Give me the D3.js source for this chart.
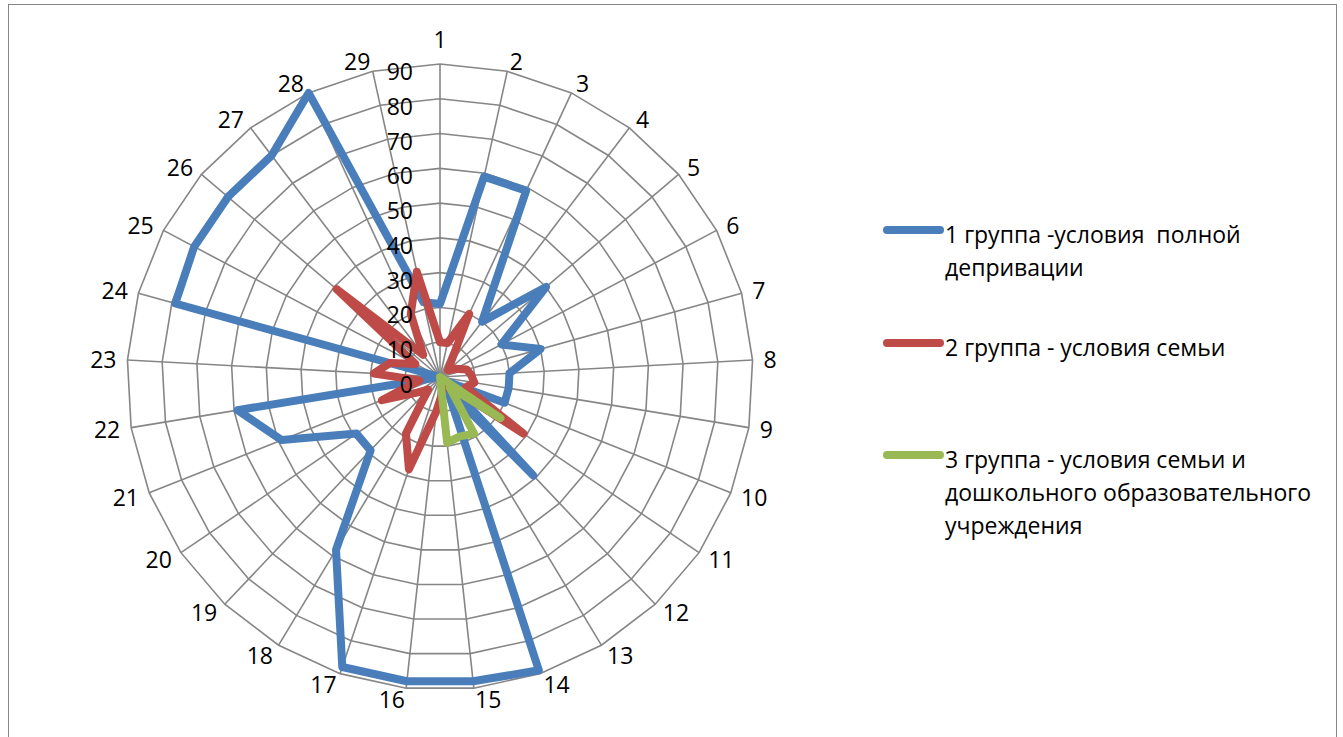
<!DOCTYPE html>
<html>
<head>
<meta charset="utf-8">
<script src="https://cdn.jsdelivr.net/npm/d3@7"></script>
<style>
  body { margin: 0; background: #fff; }
  svg { display: block; }
  text { font-family: "Open Sans", "Noto Sans", sans-serif; fill: #000; }
</style>
</head>
<body>
<svg id="chart" width="1343" height="737"></svg>
<script>
// Categories around the radar (spokes)
const categories = ["1","2","3","4","5","6","7","8","9","10","11","12","13","14","15",
                    "16","17","18","19","20","21","22","23","24","25","26","27","28","29"];

// Series values, one per category
const group1 = [21, 59, 59, 20, 40, 20, 30, 20, 20, 20, 2, 39, 4, 89, 88,
                88, 88, 58, 29, 29, 49, 59, 0, 79, 80, 80, 80, 90, 22];
const group2 = [10, 10, 20, 5, 3, 5, 8, 9, 10, 8, 29, 3, 3, 3, 5,
                10, 28, 19, 5, 8, 18, 6, 19, 15, 8, 39, 8, 20, 31];
const group3 = [0, 0, 0, 0, 0, 0, 0, 0, 0, 0, 21, 4, 19, 18, 19,
                0, 0, 0, 0, 0, 0, 0, 0, 0, 0, 0, 0, 0, 0];

// Radial axis ticks
const radialTicks = [0, 10, 20, 30, 40, 50, 60, 70, 80, 90];

// Legend entries (each entry split into its text lines)
const legendLines = [
  ["1 группа -условия  полной", "депривации"],
  ["2 группа - условия семьи"],
  ["3 группа - условия семьи и", "дошкольного образовательного", "учреждения"]
];
const seriesColors = ["#4A7EBB", "#BE4B48", "#98B954"];

const W = 1343, H = 737;
const cx = 440, cy = 377, R = 313;
const fontSize = 23;

const svg = d3.select("#chart");

// chart frame
svg.append("rect")
  .attr("x", 8.5).attr("y", 4.5)
  .attr("width", 1328).attr("height", 800)
  .attr("fill", "none").attr("stroke", "#868686").attr("stroke-width", 1);

const r = d3.scaleLinear().domain([0, 90]).range([0, R]);
const angle = d3.scaleLinear().domain([0, categories.length]).range([0, 2 * Math.PI]);

const g = svg.append("g").attr("transform", `translate(${cx},${cy})`);

// grid rings
const ringLine = t => d3.lineRadial()
  .angle((d, i) => angle(i))
  .radius(() => r(t))
  .curve(d3.curveLinearClosed);

g.append("g").selectAll("path")
  .data(radialTicks.filter(t => t > 0))
  .join("path")
  .attr("d", t => ringLine(t)(categories))
  .attr("fill", "none")
  .attr("stroke", "#868686")
  .attr("stroke-width", 1.6);

// spokes
g.append("g").selectAll("line")
  .data(categories)
  .join("line")
  .attr("x1", 0).attr("y1", 0)
  .attr("x2", (d, i) => r(90) * Math.sin(angle(i)))
  .attr("y2", (d, i) => -r(90) * Math.cos(angle(i)))
  .attr("stroke", "#868686")
  .attr("stroke-width", 1.6);

// category labels: placed just outside the outer ring, pushed sideways by half their width
const labelGap = 11;
const catLabels = g.append("g").selectAll("text")
  .data(categories)
  .join("text")
  .attr("text-anchor", "middle")
  .attr("dominant-baseline", "central")
  .attr("font-size", fontSize)
  .text(d => d);

catLabels.each(function(d, i) {
  const a = angle(i);
  const s = Math.sin(a), c = Math.cos(a);
  const w = this.getComputedTextLength();
  const side = Math.abs(s) < 1e-6 ? 0 : Math.sign(s);
  const rr = r(90) + labelGap;
  const x = rr * s + side * w / 2;
  const y = -rr * c - (side === 0 ? c * 14 : 0);
  d3.select(this).attr("x", x).attr("y", y);
});

// series polygons
const seriesLine = d3.lineRadial()
  .angle((d, i) => angle(i))
  .radius(d => r(d))
  .curve(d3.curveLinearClosed);

g.append("g").selectAll("path")
  .data([group1, group2, group3])
  .join("path")
  .attr("d", d => seriesLine(d))
  .attr("fill", "none")
  .attr("stroke", (d, i) => seriesColors[i])
  .attr("stroke-width", 8)
  .attr("stroke-linejoin", "round")
  .attr("stroke-linecap", "round");

// radial axis tick labels
g.append("g").selectAll("text")
  .data(radialTicks)
  .join("text")
  .attr("x", -27)
  .attr("y", t => -r(t) + 7)
  .attr("text-anchor", "end")
  .attr("dominant-baseline", "central")
  .attr("font-size", fontSize)
  .text(t => t);

// legend
const legendY = [230, 343, 455];
const legend = svg.append("g");
legendLines.forEach((lines, k) => {
  legend.append("line")
    .attr("x1", 887).attr("x2", 940)
    .attr("y1", legendY[k]).attr("y2", legendY[k])
    .attr("stroke", seriesColors[k])
    .attr("stroke-width", 8)
    .attr("stroke-linecap", "round");
  const t = legend.append("text")
    .attr("x", 945)
    .attr("y", legendY[k] + 13)
    .attr("font-size", fontSize)
    .style("white-space", "pre");
  lines.forEach((ln, j) => {
    t.append("tspan")
      .attr("x", 945)
      .attr("dy", j === 0 ? 0 : 33)
      .text(ln);
  });
});
</script>
</body>
</html>
